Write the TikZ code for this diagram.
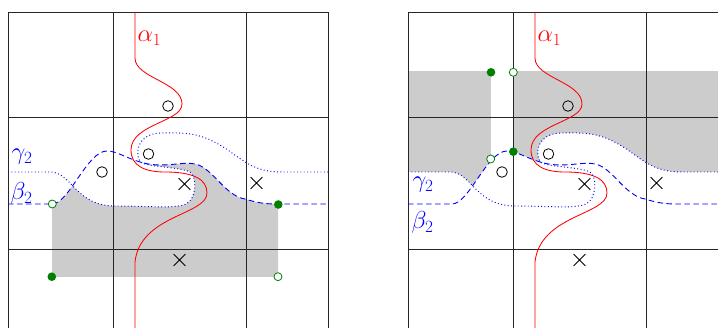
\RequirePackage{fix-cm}
\documentclass[tikz,border=0pt]{standalone}
\usetikzlibrary{shapes.misc}
\definecolor{dgreen}{RGB}{0,128,0}
\definecolor{shadegray}{RGB}{204,204,204}
\begin{document}
\begin{tikzpicture}[x=1pt,y=-1pt,
  gridline/.style={line width=0.95pt, black!85},
  alphacurve/.style={red, line width=0.85pt},
  betacurve/.style={blue, line width=0.9pt, dash pattern=on 5.5pt off 3.5pt},
  gammacurve/.style={blue, line width=0.95pt, dash pattern=on 0.95pt off 2.4pt},
  hole/.style={circle, draw=black, line width=0.8pt, minimum size=10.6pt, inner sep=0pt},
  xmark/.style={cross out, draw=black, line width=0.8pt, minimum size=11pt, inner sep=0pt},
  gdot/.style={circle, fill=dgreen, inner sep=0pt, minimum size=8.6pt},
  godot/.style={circle, draw=dgreen, fill=white, line width=0.8pt, inner sep=0pt, minimum size=8pt},
  lbl/.style={font=\fontsize{24.5}{28}\selectfont, inner sep=0pt, anchor=base west}]
\useasboundingbox (0,0) rectangle (718,328);
\def\alphapath{(135,12) -- (135,58) .. controls (135,78) and (182,82) .. (182,104) .. controls (182,122) and (131,124) .. (131,150) .. controls (131,166) and (145,172) .. (165,172) .. controls (195,172) and (207,180) .. (207,193) .. controls (207,215) and (140,215) .. (135,262) -- (135,330)}
\def\betapath{(8,204) -- (52,204) .. controls (69,204) and (87,151) .. (107,151) .. controls (120,151) and (135,165) .. (160,165) .. controls (175,165) and (185,162) .. (195,164) .. controls (212,167) and (225,196) .. (245,199) .. controls (258,203) and (265,204) .. (278,204) -- (328,204)}
\def\gammapath{(8,172) -- (50,172) .. controls (72,172) and (75,206) .. (115,206) .. controls (150,206) and (175,209) .. (186,204) .. controls (197,199) and (197,176) .. (190,172) .. controls (180,167) and (150,167) .. (142,163) .. controls (134,158) and (135,133) .. (162,133) .. controls (195,132) and (205,136) .. (225,148) .. controls (245,162) and (255,172) .. (282,172) -- (328,172)}
\newcommand\drawpanelbase[1]{%
  \draw[gridline] (8,328) -- (8,12) -- (328,12) -- (328,328);
  \draw[gridline] (113,12) -- (113,328);
  \draw[gridline] (246,12) -- (246,328);
  \draw[gridline] (8,117) -- (328,117);
  \draw[gridline] (8,249) -- (328,249);
  \draw[alphacurve] \alphapath;
  \draw[gammacurve] \gammapath;
  \draw[betacurve] \betapath;
  \node[lbl, text=red] (a1#1) at (137.5,41.5) {$\alpha_1$};
  \node[hole] (o1#1) at (168,106) {};
  \node[hole] (o2#1) at (148.5,154) {};
  \node[hole] (o3#1) at (102,172) {};
  \node[xmark] (x1#1) at (184.5,184) {};
  \node[xmark] (x2#1) at (256.5,183) {};
  \node[xmark] (x3#1) at (179.5,260) {};
}
% left panel
\begin{scope}
  \clip (52,140) rectangle (278,277);
  \clip \betapath -- (328,340) -- (8,340) -- cycle;
  \fill[shadegray, even odd rule] (0,0) rectangle (340,340) \gammapath -- (328,0) -- (8,0) -- cycle;
\end{scope}
\drawpanelbase{L}
\node[lbl, text=blue] (g2L) at (11.5,160) {$\gamma_2$};
\node[lbl, text=blue] (b2L) at (10.5,199.5) {$\beta_2$};
\node[godot] (p1L) at (52.3,204) {};
\node[gdot] (p2L) at (278.3,204.5) {};
\node[gdot] (p3L) at (51.8,276.7) {};
\node[godot] (p4L) at (278,276.7) {};
% right panel
\begin{scope}[xshift=400pt]
  \clip (0,0) rectangle (318,328);
  \begin{scope}
    \clip (8,72) rectangle (330,260);
    \clip \gammapath -- (328,0) -- (8,0) -- cycle;
    \fill[shadegray, even odd rule] (0,0) rectangle (340,340) \betapath -- (328,340) -- (8,340) -- cycle;
    \fill[white] (91,60) rectangle (113.3,200);
  \end{scope}
  \drawpanelbase{R}
  \node[lbl, text=blue] (g2R) at (12.5,188) {$\gamma_2$};
  \node[lbl, text=blue] (b2R) at (11.5,228.5) {$\beta_2$};
  \node[gdot] (p1R) at (91,72.3) {};
  \node[godot] (p2R) at (113.3,72.3) {};
  \node[godot] (p3R) at (90.7,159) {};
  \node[gdot] (p4R) at (113.3,151.7) {};
\end{scope}
\end{tikzpicture}
\end{document}
